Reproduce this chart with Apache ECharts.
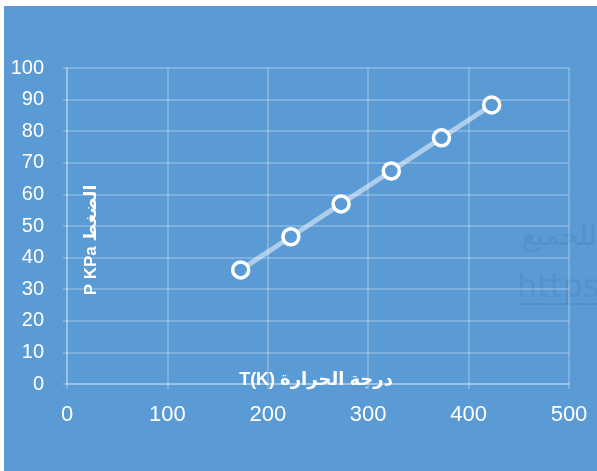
<!DOCTYPE html>
<html>
<head>
<meta charset="utf-8">
<script src="https://cdn.jsdelivr.net/npm/echarts@6/dist/echarts.min.js"></script>
<style>html,body{margin:0;padding:0;background:#fff;}#c{width:597px;height:471px;}</style>
</head>
<body>
<div id="c"></div>
<script>
// Data
const temperatureK = [173, 223, 273, 323, 373, 423];
const pressureKPa = [36.1, 46.6, 57.0, 67.4, 77.9, 88.3];
const xTicks = [0, 100, 200, 300, 400, 500];
const yTicks = [0, 10, 20, 30, 40, 50, 60, 70, 80, 90, 100];
const xName = 'T(K) درجة الحرارة';
const yName = 'P KPa الضغط';

const BG = '#5B9BD5';
const GRID = 'rgba(255,255,255,0.3)';
const WM = 'rgba(40,80,140,0.13)';
const chart = echarts.init(document.getElementById('c'), null, {renderer: 'canvas'});
chart.setOption({
  backgroundColor: BG,
  animation: false,
  grid: {left: 67, right: 28, top: 68, bottom: 87},
  xAxis: {
    type: 'value', min: xTicks[0], max: xTicks[xTicks.length - 1], interval: 100,
    axisLine: {show: true, lineStyle: {color: GRID, width: 1.5}},
    axisTick: {show: true, length: 5, lineStyle: {color: GRID, width: 1.5}},
    splitLine: {show: true, lineStyle: {color: GRID, width: 1.5}},
    axisLabel: {color: '#fff', fontSize: 22, fontFamily: 'Liberation Sans', margin: 20}
  },
  yAxis: {
    type: 'value', min: yTicks[0], max: yTicks[yTicks.length - 1], interval: 10,
    axisLine: {show: true, lineStyle: {color: GRID, width: 1.5}},
    axisTick: {show: true, length: 4, lineStyle: {color: GRID, width: 1.5}},
    splitLine: {show: true, lineStyle: {color: GRID, width: 1.5}},
    axisLabel: {color: '#fff', fontSize: 20, fontFamily: 'Liberation Sans', margin: 23}
  },
  graphic: [
    {type: 'rect', shape: {x: 0, y: 0, width: 597, height: 6}, style: {fill: '#fff'}, silent: true},
    {type: 'rect', shape: {x: 0, y: 0, width: 4, height: 471}, style: {fill: '#fff'}, silent: true},
    {type: 'text', x: 316, y: 380,
     style: {text: xName, fill: '#fff', font: 'bold 18px "Liberation Sans", "DejaVu Sans"', textAlign: 'center', textVerticalAlign: 'middle'}, silent: true, z: 10},
    {type: 'text', x: 91, y: 240, rotation: Math.PI / 2,
     style: {text: yName, fill: '#fff', font: 'bold 17px "Liberation Sans", "DejaVu Sans"', textAlign: 'center', textVerticalAlign: 'middle'}, silent: true, z: 10},
    {type: 'text', x: 597, y: 238, style: {text: 'للجميع', fill: WM, font: '28px "DejaVu Sans"', textAlign: 'right', textVerticalAlign: 'middle'}, silent: true},
    {type: 'text', x: 517, y: 289, style: {text: 'https://', fill: WM, font: '32px "DejaVu Sans"', textAlign: 'left', textVerticalAlign: 'middle'}, silent: true},
    {type: 'rect', shape: {x: 518, y: 303, width: 79, height: 2}, style: {fill: WM}, silent: true}
  ],
  series: [{
    type: 'line',
    data: temperatureK.map((t, i) => [t, pressureKPa[i]]),
    symbol: 'circle', symbolSize: 16,
    lineStyle: {color: 'rgba(255,255,255,0.5)', width: 5},
    itemStyle: {color: BG, borderColor: '#fff', borderWidth: 3.5}
  }]
});
</script>
</body>
</html>
